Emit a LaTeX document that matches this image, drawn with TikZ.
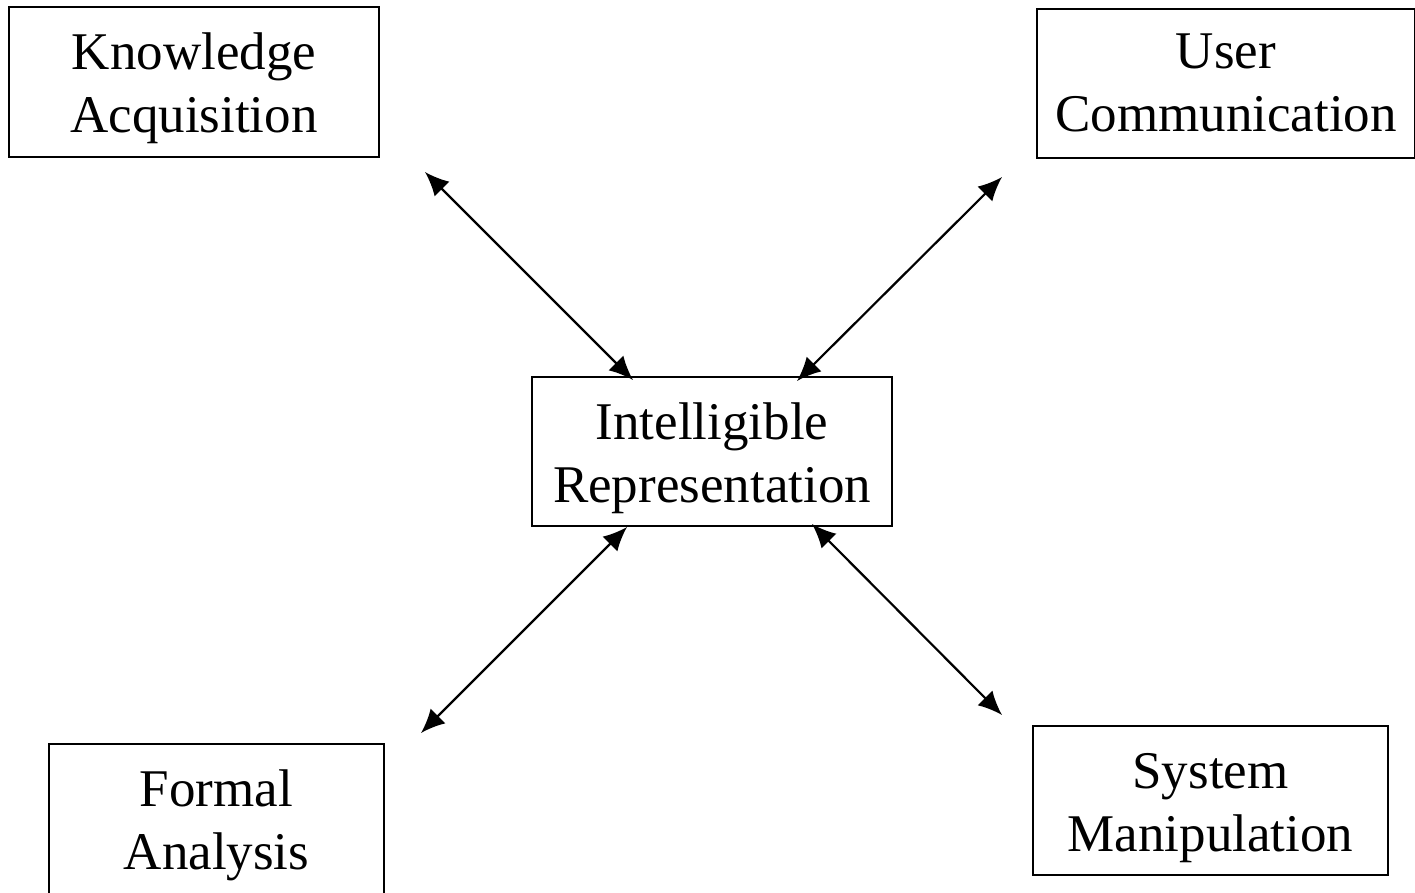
\documentclass[tikz,border=0pt]{standalone}
\usepackage{fontspec}
\setmainfont{Liberation Serif}
\usetikzlibrary{arrows.meta}
\newcommand\boxtext[2][-6.5pt]{\raisebox{#1}[\height][\depth]{\begin{tabular}{@{}c@{}}#2\end{tabular}}}
\begin{document}
\begin{tikzpicture}[x=1pt,y=-1pt,
  box/.style={draw,line width=1.7pt,rectangle,inner sep=0pt,
    font=\fontsize{53}{63}\selectfont},
  link/.style={line width=2.2pt,{Latex[length=24pt,width=21pt]}-{Latex[length=24pt,width=21pt]}}]
\useasboundingbox (0,0) rectangle (1415,892);
\node[box,minimum width=370pt,minimum height=150pt] (ka) at (194,82) {\boxtext{Knowledge\\Acquisition}};
\node[box,minimum width=378pt,minimum height=149pt] (uc) at (1226,83.5) {\boxtext[-4pt]{User\\Communication}};
\node[box,minimum width=360pt,minimum height=149pt] (ir) at (712,451.5) {\boxtext{Intelligible\\Representation}};
\node[box,minimum width=335pt,minimum height=150pt] (fa) at (216.5,819) {\boxtext{Formal\\Analysis}};
\node[box,minimum width=355pt,minimum height=149pt] (sm) at (1210.5,800.5) {\boxtext{System\\Manipulation}};
\coordinate (a1s) at (425,172);
\coordinate (a1e) at (633,380);
\coordinate (a2s) at (1002,177);
\coordinate (a2e) at (797,381);
\coordinate (a3s) at (627,527);
\coordinate (a3e) at (421,733);
\coordinate (a4s) at (812,524);
\coordinate (a4e) at (1002,715);
\draw[link] (a1s) -- (a1e);
\draw[link] (a2s) -- (a2e);
\draw[link] (a3s) -- (a3e);
\draw[link] (a4s) -- (a4e);
\end{tikzpicture}
\end{document}
